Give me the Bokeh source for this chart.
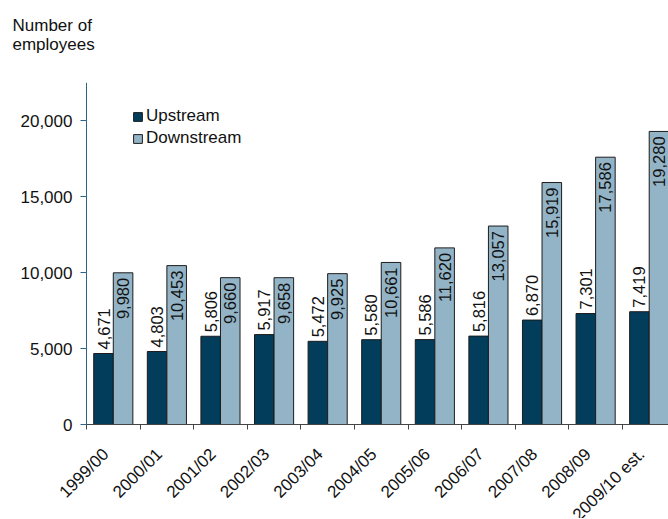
import math
from bokeh.plotting import figure
from bokeh.models import ColumnDataSource, Range1d, FixedTicker, NumeralTickFormatter
from bokeh.transform import dodge
from bokeh.core.properties import value
from bokeh.embed import file_html
from bokeh.resources import INLINE

years = ["1999/00", "2000/01", "2001/02", "2002/03", "2003/04", "2004/05",
         "2005/06", "2006/07", "2007/08", "2008/09", "2009/10 est."]
upstream = [4671, 4803, 5806, 5917, 5472, 5580, 5586, 5816, 6870, 7301, 7419]
downstream = [9980, 10453, 9660, 9658, 9925, 10661, 11620, 13057, 15919, 17586, 19280]
y_ticks = [0, 5000, 10000, 15000, 20000]
y_title = "Number of\nemployees\n "

FONT = "Liberation Sans"
DARK = "#023d5b"
LIGHT = "#93b4c6"
EDGE = "#1c1c1c"
TXT = "#111111"

n = len(years)
centers = [i + 0.5 for i in range(n)]
label_pos = [round(i + 0.36, 3) for i in range(n)]
src = ColumnDataSource(dict(
    x=centers,
    up=upstream,
    down=downstream,
    up_lbl=[f"{v:,}" for v in upstream],
    down_lbl=[f"{v:,}" for v in downstream],
))

# frame covers the whole canvas below the title; axes are pinned at x=0 / y=0
X_END = 10.86
Y_END = 22500
p = figure(width=668, height=518, output_backend="svg", toolbar_location=None,
           x_range=Range1d(-1.6045, X_END), y_range=Range1d(-6184, Y_END),
           min_border_left=0, min_border_right=0, min_border_top=82, min_border_bottom=0)
p.outline_line_color = None
p.xgrid.visible = False
p.ygrid.visible = False

bw = 0.365
p.vbar(x=dodge("x", -bw / 2, range=p.x_range), top="up", width=bw, source=src,
       fill_color=DARK, line_color=EDGE, line_width=1, legend_label="Upstream")
p.vbar(x=dodge("x", bw / 2, range=p.x_range), top="down", width=bw, source=src,
       fill_color=LIGHT, line_color=EDGE, line_width=1, legend_label="Downstream")

p.text(x=dodge("x", -bw / 2, range=p.x_range), y="up", text="up_lbl", source=src,
       angle=math.pi / 2, text_align="left", text_baseline="middle", y_offset=-4,
       text_font=value(FONT), text_font_size="16.5px", text_color=TXT)
p.text(x=dodge("x", bw / 2, range=p.x_range), y="down", text="down_lbl", source=src,
       angle=math.pi / 2, text_align="right", text_baseline="middle", y_offset=5,
       text_font=value(FONT), text_font_size="16.5px", text_color=TXT)

# x axis
xa = p.xaxis[0]
xa.fixed_location = 0
xa.bounds = (0, X_END)
xa.ticker = FixedTicker(ticks=label_pos, minor_ticks=list(range(n + 1)))
xa.major_label_overrides = {c: y for c, y in zip(label_pos, years)}
xa.major_label_orientation = math.pi / 4
xa.major_tick_line_color = None
xa.major_tick_out = 0
xa.major_tick_in = 0
xa.minor_tick_line_color = "#444444"
xa.minor_tick_out = 5
xa.minor_tick_in = 0
xa.axis_line_color = "#444444"
xa.major_label_standoff = 22
xa.major_label_text_font = FONT
xa.major_label_text_font_size = "17px"
xa.major_label_text_color = TXT

# y axis
ya = p.yaxis[0]
ya.fixed_location = 0
ya.bounds = (0, Y_END)
ya.ticker = FixedTicker(ticks=y_ticks)
ya.formatter = NumeralTickFormatter(format="0,0")
ya.axis_line_color = "#2e6486"
ya.major_tick_line_color = "#2e6486"
ya.major_tick_out = 6
ya.major_tick_in = 0
ya.minor_tick_line_color = None
ya.major_label_standoff = 8
ya.major_label_text_font = FONT
ya.major_label_text_font_size = "17px"
ya.major_label_text_color = TXT

# title (axis caption, top left)
p.title.text = y_title
p.title.text_font = FONT
p.title.text_font_size = "17px"
p.title.text_font_style = "normal"
p.title.text_color = TXT
p.title.align = "left"
p.title.offset = 12
p.title.standoff = 20

leg = p.legend[0]
leg.location = (132, 370)
leg.border_line_color = None
leg.background_fill_alpha = 0
leg.glyph_width = 11
leg.glyph_height = 11
leg.label_text_font = FONT
leg.label_text_font_size = "17px"
leg.label_text_color = TXT
leg.label_standoff = 3
leg.label_height = 20
leg.spacing = 2
leg.padding = 0
leg.margin = 0

open("out.html", "w").write(file_html(p, INLINE))
